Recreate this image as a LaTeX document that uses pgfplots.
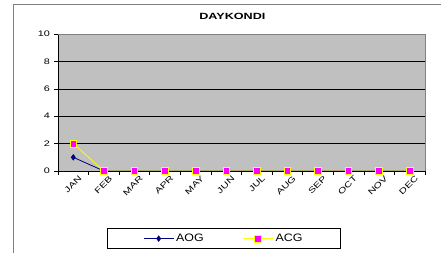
\documentclass[border=0pt]{standalone}
\usepackage{pgfplots}
\pgfplotsset{compat=1.18}
\usepackage{fontspec}
\setmainfont{Liberation Sans}
\newfontfamily\tickfont{Liberation Sans}[FakeStretch=1.35]
\newfontfamily\legfont{Liberation Sans}[FakeStretch=1.15]
\newfontfamily\titlefont{Liberation Sans}[FakeStretch=1.4]
\definecolor{plotbg}{RGB}{192,192,192}
\definecolor{framegray}{RGB}{128,128,128}
\definecolor{aognavy}{RGB}{0,0,128}
\definecolor{acgyellow}{RGB}{255,255,0}
\definecolor{acgmag}{RGB}{255,0,255}
\begin{document}
\begin{tikzpicture}[x=1pt,y=1pt]
\draw[framegray,line width=1pt] (13,-10) -- (13,247) -- (460,247);
\begin{axis}[
  at={(58pt,81pt)}, anchor=south west,
  width=367pt, height=137pt, scale only axis,
  xmin=-0.5, xmax=11.5, ymin=0, ymax=10,
  axis background/.style={fill=plotbg},
  axis line style={draw=none},
  ytick={0,2,4,6,8,10},
  ymajorgrids, grid style={black, line width=0.6pt},
  xtick={0,...,11},
  xticklabels={JAN,FEB,MAR,APR,MAY,JUN,JUL,AUG,SEP,OCT,NOV,DEC},
  minor xtick={-0.5,0.5,...,11.5},
  major x tick style={draw=none},
  minor x tick style={black, line width=0.6pt},
  minor tick length=4pt,
  major tick length=4pt,
  tick align=outside,
  y tick style={black, line width=0.6pt},
  xtick pos=bottom, ytick pos=left,
  tick label style={font=\tickfont\fontsize{8}{9}\selectfont},
  xticklabel style={rotate=45, anchor=north east, inner sep=0.5pt, yshift=-3pt, xshift=4pt},
  yticklabel style={inner sep=1pt, xshift=-3pt},
  /pgf/number format/assume math mode=true,
  title={DAYKONDI},
  title style={font=\titlefont\bfseries\fontsize{9}{10}\selectfont, at={(axis description cs:0.475,1)}, anchor=base, inner sep=0pt, yshift=8.5pt},
  legend columns=2,
  legend style={at={(rel axis cs:0.1335,-0.569)}, anchor=south west, draw=black, line width=0.6pt,
    font=\legfont\fontsize{10.8}{12}\selectfont, inner xsep=36pt, inner ysep=3.5pt,
    /tikz/every even column/.append style={column sep=37pt}},
  legend image code/.code={\draw[mark repeat=2,mark phase=2,#1] plot coordinates {(0pt,0pt)(15pt,0pt)(30pt,0pt)};},
  clip=false,
]
\addplot[color=aognavy, line width=0.8pt, mark=diamond*, mark size=2.6pt, mark options={fill=aognavy, draw=aognavy}]
  coordinates {(0,1)(1,0)(2,0)(3,0)(4,0)(5,0)(6,0)(7,0)(8,0)(9,0)(10,0)(11,0)};
\addlegendentry{AOG}
\addplot[color=acgyellow, line width=0.8pt, mark=square*, mark size=3.3pt, mark options={fill=acgmag, draw=acgyellow, line width=0.8pt}]
  coordinates {(0,2)(1,0)(2,0)(3,0)(4,0)(5,0)(6,0)(7,0)(8,0)(9,0)(10,0)(11,0)};
\addlegendentry{ACG}
\draw[black, line width=0.8pt] (rel axis cs:0,0) -- (rel axis cs:0,1);
\draw[black, line width=0.8pt] (rel axis cs:0,0) -- (rel axis cs:1,0);
\draw[framegray, line width=0.8pt] (rel axis cs:0,1) -- (rel axis cs:1,1) -- (rel axis cs:1,0);
\end{axis}
\pgfresetboundingbox
\useasboundingbox (0,0) rectangle (441,252);
\end{tikzpicture}
\end{document}
